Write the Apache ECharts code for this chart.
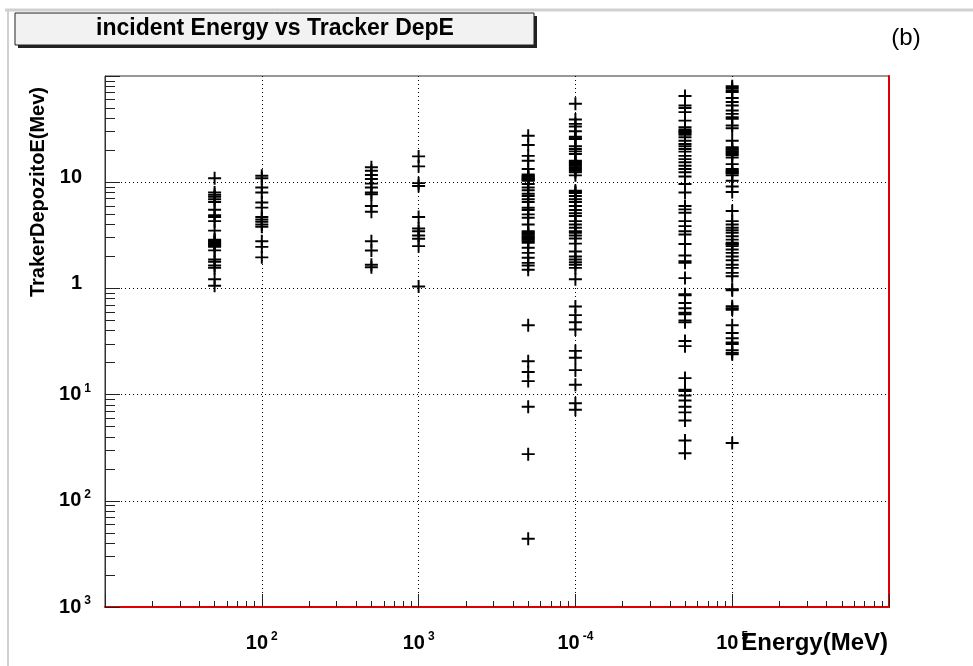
<!DOCTYPE html>
<html>
<head>
<meta charset="utf-8">
<script src="https://cdn.jsdelivr.net/npm/echarts@6/dist/echarts.min.js"></script>
<style>
html,body{margin:0;padding:0;background:#fff;}
#chart{width:973px;height:666px;}
</style>
</head>
<body>
<div id="chart"></div>
<script>
// ---------- data ----------
const energies = [50, 100, 500, 1000, 5000, 10000, 50000, 100000];

const dep50 = [10.9, 8.0, 7.6, 7.3, 6.9, 6.5, 5.5, 4.9, 4.7, 4.3, 3.5, 2.88, 2.8, 2.72, 2.65, 2.59, 2.52, 2.46, 2.28, 1.87, 1.78, 1.64, 1.56, 1.22, 1.06];
const dep100 = [11.5, 10.9, 8.9, 8.0, 6.45, 5.76, 4.7, 4.46, 4.25, 4.0, 3.8, 2.78, 2.46, 1.96];
const dep500 = [13.8, 12.8, 11.7, 10.7, 9.7, 8.9, 8.0, 7.7, 5.97, 5.28, 2.78, 2.27, 1.67, 1.58];
const dep1000 = [17.5, 14.1, 9.8, 9.2, 4.7, 3.67, 3.46, 3.15, 2.93, 2.5, 1.04];
const dep5000 = [27.4, 22.4, 17.7, 15.9, 13.3, 11.8, 11.5, 11.3, 11.1, 10.9, 10.7, 10.5, 10.3, 9.6, 8.9, 8.4, 7.8, 7.4, 6.9, 6.5, 5.75, 5.47, 4.98, 4.63, 4.0, 3.46, 3.37, 3.29, 3.2, 3.1, 3.02, 2.95, 2.87, 2.78, 2.69, 2.41, 2.16, 1.94, 1.74, 1.64, 1.5, 0.45, 0.206, 0.163, 0.134, 0.077, 0.0275, 0.0044];
const dep10000 = [54.8, 38.9, 35.4, 33.4, 30.2, 26.8, 26.0, 25.5, 21.8, 20.5, 19.5, 18.4, 15.9, 15.5, 15.1, 14.7, 14.3, 13.8, 13.3, 12.8, 12.4, 11.6, 8.3, 8.1, 7.9, 7.4, 6.9, 6.5, 5.97, 5.47, 5.09, 4.8, 4.3, 4.0, 3.72, 3.46, 3.34, 3.15, 2.95, 2.64, 2.23, 2.0, 1.87, 1.76, 1.67, 1.56, 1.22, 0.675, 0.56, 0.48, 0.41, 0.258, 0.222, 0.17, 0.124, 0.083, 0.072];
const dep50000 = [64.9, 52.8, 49.9, 45.7, 38.0, 32.9, 31.3, 30.4, 29.6, 28.7, 27.9, 26.5, 24.6, 22.9, 21.8, 20.5, 19.4, 17.7, 16.5, 15.4, 14.3, 13.3, 12.4, 11.3, 9.6, 8.0, 5.97, 5.55, 5.16, 4.3, 3.86, 3.46, 3.22, 2.62, 2.04, 1.8, 1.74, 1.25, 0.88, 0.86, 0.73, 0.65, 0.59, 0.57, 0.5, 0.48, 0.32, 0.286, 0.143, 0.111, 0.108, 0.098, 0.088, 0.077, 0.068, 0.057, 0.037, 0.028];
const dep100000 = [80, 77.1, 73.3, 70.7, 62.1, 56.9, 52.8, 47.3, 44.0, 41.0, 39.6, 34.2, 32.2, 24.6, 21.3, 20.7, 20.2, 19.6, 19.1, 18.5, 18.0, 17.1, 14.8, 13.3, 12.9, 12.6, 12.3, 12.1, 11.6, 10.3, 9.1, 8.1, 5.35, 4.3, 4.0, 3.72, 3.53, 3.34, 3.1, 2.88, 2.69, 2.62, 2.59, 2.5, 2.32, 2.16, 2.0, 1.84, 1.67, 1.56, 1.4, 1.3, 0.98, 0.96, 0.68, 0.65, 0.63, 0.45, 0.38, 0.34, 0.31, 0.3, 0.262, 0.247, 0.24, 0.035];

const depByEnergy = [dep50, dep100, dep500, dep1000, dep5000, dep10000, dep50000, dep100000];

// axis ranges and tick labels
const xMin = 10, xMax = 1e6;
const yMin = 1e-3, yMax = 100;
const xLabelValues = [100, 1000, 10000, 100000];
const xLabelBase = ['10', '10', '10', '10'];
const xLabelSup = ['2', '3', '-4', '5'];
const yLabelValues = [0.001, 0.01, 0.1, 1, 10];
const yLabelBase = ['10', '10', '10', '1', '10'];
const yLabelSup = ['3', '2', '1', '', ''];

const titleText = 'incident Energy vs Tracker DepE';
const xTitle = 'Energy(MeV)';
const yTitle = 'TrakerDepozitoE(Mev)';
const panelTag = '(b)';

// ---------- build ----------
function decades(lo, hi) { const a = []; for (let e = Math.round(Math.log10(lo)); e <= Math.round(Math.log10(hi)); e++) a.push(Math.pow(10, e)); return a; }
function minors(lo, hi) { const a = []; for (let e = Math.round(Math.log10(lo)); e < Math.round(Math.log10(hi)); e++) for (let k = 2; k <= 9; k++) a.push(k * Math.pow(10, e)); return a; }
const xMajor = decades(xMin, xMax), xMinor = minors(xMin, xMax);
const yMajor = decades(yMin, yMax), yMinor = minors(yMin, yMax);

const points = [];
energies.forEach((e, i) => depByEnergy[i].forEach(v => points.push([e, v])));

function findIdx(arr, v) { return arr.findIndex(a => Math.abs(Math.log10(a) - Math.log10(v)) < 1e-6); }

const FONT = '"Liberation Sans", Arial, Helvetica, sans-serif';
const rich = {
  b: { fontSize: 20, fontWeight: 'bold', fontFamily: FONT, color: '#000', lineHeight: 24 },
  s: { fontSize: 12, fontWeight: 'bold', fontFamily: FONT, color: '#000', verticalAlign: 'top', padding: [0, 0, 0, 3] },
  p: { fontSize: 20, fontWeight: 'bold', fontFamily: FONT, color: '#000', lineHeight: 24, padding: [0, 9, 10, 0] }
};

const plus = 'path://M4.25,0H5.75V4.25H10V5.75H5.75V10H4.25V5.75H0V4.25H4.25Z';
const dotted = { color: '#000', type: [1, 3], width: 1 };

const chart = echarts.init(document.getElementById('chart'), null, { renderer: 'canvas' });
chart.setOption({
  backgroundColor: '#fff',
  animation: false,
  grid: { left: 105, right: 84, top: 76, bottom: 59, show: true, borderColor: '#333', borderWidth: 1, backgroundColor: '#fff' },
  xAxis: [
    {
      type: 'log', logBase: 10, min: xMin, max: xMax, position: 'bottom',
      axisLine: { show: true, onZero: false, lineStyle: { color: '#e00000', width: 2 } },
      axisTick: { show: true, inside: true, length: 13, customValues: xMajor, lineStyle: { color: '#222', width: 1 } },
      axisLabel: {
        show: true, margin: 24, customValues: xLabelValues, rich: rich,
        formatter: v => { const i = findIdx(xLabelValues, v); return i < 0 ? '' : '{b|' + xLabelBase[i] + '}{s|' + xLabelSup[i] + '}'; }
      },
      splitLine: { show: true, showMinLine: false, showMaxLine: false, lineStyle: dotted }
    },
    {
      type: 'log', logBase: 10, min: xMin, max: xMax, position: 'bottom',
      axisLine: { show: false, onZero: false },
      axisTick: { show: true, inside: true, length: 6, customValues: xMinor, lineStyle: { color: '#222', width: 1 } },
      axisLabel: { show: false },
      splitLine: { show: false }
    }
  ],
  yAxis: [
    {
      type: 'log', logBase: 10, min: yMin, max: yMax, position: 'left',
      axisLine: { show: true, onZero: false, lineStyle: { color: '#333', width: 1 } },
      axisTick: { show: true, inside: true, length: 15, customValues: yMajor, lineStyle: { color: '#222', width: 1 } },
      axisLabel: {
        show: true, margin: 14, customValues: yLabelValues, rich: rich,
        formatter: v => {
          const i = findIdx(yLabelValues, v); if (i < 0) return '';
          return yLabelSup[i] ? '{b|' + yLabelBase[i] + '}{s|' + yLabelSup[i] + '}' : '{p|' + yLabelBase[i] + '}';
        }
      },
      splitLine: { show: true, showMinLine: false, showMaxLine: false, lineStyle: dotted }
    },
    {
      type: 'log', logBase: 10, min: yMin, max: yMax, position: 'left',
      axisLine: { show: false, onZero: false },
      axisTick: { show: true, inside: true, length: 10, customValues: yMinor, lineStyle: { color: '#222', width: 1 } },
      axisLabel: { show: false },
      splitLine: { show: false }
    },
    {
      type: 'log', logBase: 10, min: yMin, max: yMax, position: 'right',
      axisLine: { show: true, onZero: false, lineStyle: { color: '#e00000', width: 2 } },
      axisTick: { show: false }, axisLabel: { show: false }, splitLine: { show: false }
    }
  ],
  series: [{
    type: 'scatter', xAxisIndex: 0, yAxisIndex: 0,
    data: points, symbol: plus, symbolSize: [13, 13],
    itemStyle: { color: '#000', opacity: 1 }, silent: true
  }],
  graphic: [
    { type: 'line', shape: { x1: 5, y1: 10, x2: 973, y2: 10 }, style: { stroke: '#d0d0d0', lineWidth: 3 }, silent: true },
    { type: 'line', shape: { x1: 8, y1: 10, x2: 8, y2: 666 }, style: { stroke: '#d0d0d0', lineWidth: 2 }, silent: true },
    { type: 'rect', shape: { x: 18, y: 16, width: 519, height: 32 }, style: { fill: '#222' }, silent: true },
    { type: 'rect', shape: { x: 15, y: 13, width: 519, height: 32 }, style: { fill: '#f2f2f2', stroke: '#222', lineWidth: 1 }, silent: true },
    { type: 'text', x: 275, y: 29, style: { text: titleText, font: 'bold 23px ' + FONT, fill: '#000', align: 'center', verticalAlign: 'middle' }, silent: true },
    { type: 'text', x: 906, y: 38, style: { text: panelTag, font: '24px ' + FONT, fill: '#000', align: 'center', verticalAlign: 'middle' }, silent: true },
    { type: 'text', x: 888, y: 643, style: { text: xTitle, font: 'bold 24px ' + FONT, fill: '#000', align: 'right', verticalAlign: 'middle' }, silent: true },
    { type: 'text', x: 38, y: 192, rotation: Math.PI / 2, style: { text: yTitle, font: 'bold 20px ' + FONT, fill: '#000', align: 'center', verticalAlign: 'middle' }, silent: true }
  ]
});
</script>
</body>
</html>
